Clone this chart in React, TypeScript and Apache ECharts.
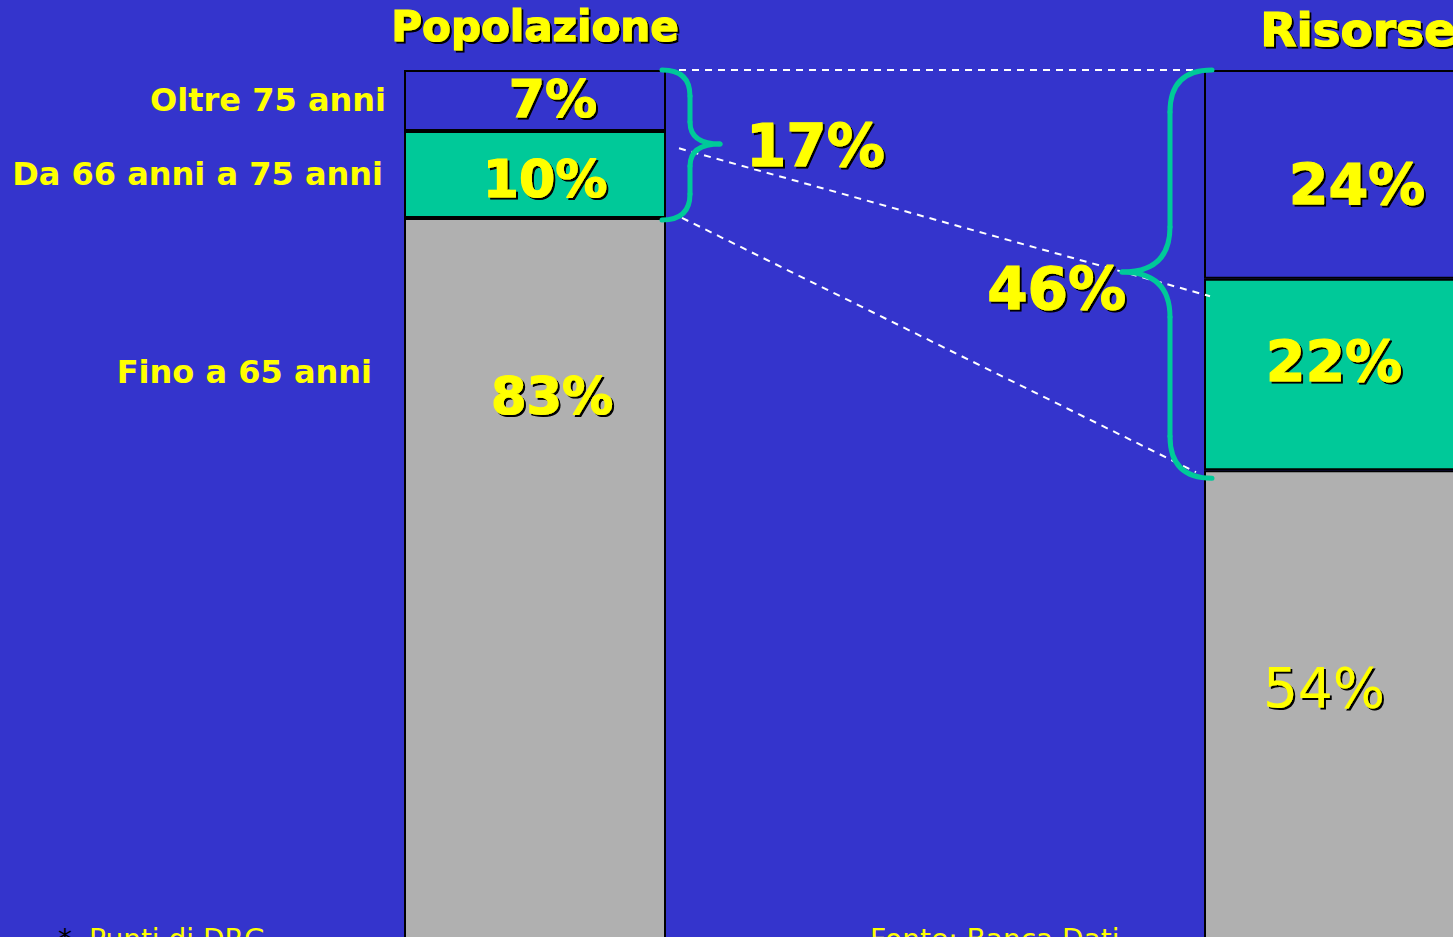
import React, { useEffect, useRef } from "react";
import * as echarts from "echarts";

// ---- data ----
const categories = ["Popolazione", "Risorse"];
const seriesNames = ["Fino a 65 anni", "Da 66 anni a 75 anni", "Oltre 75 anni"];
const fino65 = [83, 54];
const da66a75 = [10, 22];
const oltre75 = [7, 24];
const over65Totals = ["17%", "46%"];
const connectorPop = [100, 91, 83];
const connectorRis = [100, 74, 54];
const footnoteMark = "*";
const footnote = "Punti di DRG";
const sourceText = "Fonte: Banca Dati";

// ---- styles ----
const BG = "#3434cc";
const TEAL = "#00c999";
const GREY = "#b0b0b0";
const YELLOW = "#ffff00";
const FONT = "DejaVu Sans";
const shadow = { textShadowColor: "#000", textShadowOffsetX: 2, textShadowOffsetY: 2, textShadowBlur: 0.6 };
const heavy = { textBorderColor: YELLOW, textBorderWidth: 1.2 };

const labelOffsets = [
  [[17, -182], [-11, -17]],
  [[10, 5], [-1, -13]],
  [[18, -1], [22, 11]],
];
const labelSizes = [[51, 55], [52, 57], [52, 57]];
const labelWeights = [["bold", "normal"], ["bold", "bold"], ["bold", "bold"]];
const colors = [GREY, TEAL, BG];

export default function App() {
  const ref = useRef<HTMLDivElement>(null);
  useEffect(() => {
    const chart = echarts.init(ref.current!, null, { renderer: "svg" });
    const values = [fino65, da66a75, oltre75];
    const series = values.map((vals, s) => ({
      type: "bar",
      name: seriesNames[s],
      stack: "tot",
      barWidth: 262,
      itemStyle: { color: colors[s], borderColor: "#000", borderWidth: 2 },
      data: vals.map((v, i) => ({
        value: v,
        label: {
          show: true,
          position: "inside",
          formatter: "{c}%",
          color: YELLOW,
          fontFamily: FONT,
          fontSize: labelSizes[s][i],
          fontWeight: labelWeights[s][i],
          offset: labelOffsets[s][i],
          ...shadow,
          ...(labelWeights[s][i] === "bold" ? heavy : {}),
        },
      })),
    }));
    chart.setOption({
      animation: false,
      backgroundColor: BG,
      grid: { left: 135, width: 1600, top: 70, height: 870 },
      xAxis: {
        type: "category",
        data: categories,
        position: "top",
        axisLine: { show: false },
        axisTick: { show: false },
        axisLabel: {
          margin: 23,
          formatter: (v: string, i: number) => (i === 0 ? `{a|${v}}` : `{b|${v}}`),
          rich: {
            a: { color: YELLOW, fontFamily: FONT, fontWeight: "bold", fontSize: 42, ...shadow, ...heavy },
            b: { color: YELLOW, fontFamily: FONT, fontWeight: "bold", fontSize: 47, padding: [0, 0, -6, 46], ...shadow, ...heavy },
          },
        },
      },
      yAxis: { type: "value", min: 0, max: 100, show: false },
      series,
    });

    const px = (cat: number, v: number) => chart.convertToPixel({ gridIndex: 0 }, [cat, v]) as number[];
    const half = 131;
    const popRight = px(0, 0)[0] + half;
    const popLeft = px(0, 0)[0] - half;
    const risLeft = px(1, 0)[0] - half;

    const braceStyle = { stroke: TEAL, lineWidth: 5, fill: "none", lineCap: "round" };
    const brace = (edgeX: number, spineX: number, tipX: number, yTop: number, yBot: number, yMid: number, r1: number, r2: number) => {
      const q = (x1: number, y1: number, x2: number, y2: number, cx: number, cy: number) => ({
        type: "bezierCurve",
        shape: { x1, y1, x2, y2, cpx1: cx, cpy1: cy },
        style: braceStyle,
        silent: true,
      });
      const l = (x1: number, y1: number, x2: number, y2: number) => ({
        type: "line",
        shape: { x1, y1, x2, y2 },
        style: braceStyle,
        silent: true,
      });
      return [
        q(edgeX, yTop, spineX, yTop + r1, spineX, yTop),
        l(spineX, yTop + r1, spineX, yMid - r2),
        q(spineX, yMid - r2, tipX, yMid, spineX, yMid),
        q(tipX, yMid, spineX, yMid + r2, spineX, yMid),
        l(spineX, yMid + r2, spineX, yBot - r1),
        q(spineX, yBot - r1, edgeX, yBot, spineX, yBot),
      ];
    };

    const dashStyle = { stroke: "#ffffff", lineWidth: 2, lineDash: [7, 6] };
    const connectors = connectorPop.map((pv, k) => {
      const y1 = px(0, pv)[1];
      const y2 = px(1, connectorRis[k])[1];
      const x1 = popRight + (k === 0 ? 0 : 10 + k * 3);
      const x2 = risLeft + (k === 0 ? -4 : 6 - (k - 1) * 14);
      return { type: "line", shape: { x1, y1, x2, y2: k === 2 ? y2 + 2 : y2 }, style: dashStyle, silent: true, z: 5 };
    });

    const yTop = px(0, 100)[1];
    const popCut = px(0, fino65[0])[1];
    const risCut = px(1, fino65[1])[1];
    const b1 = brace(popRight - 4, popRight + 24, popRight + 54, yTop, popCut + 2, (yTop + popCut) / 2, 26, 22);
    const b2 = brace(risLeft + 8, risLeft - 34, risLeft - 82, yTop, risCut + 8, (yTop + risCut) / 2 + 2, 42, 45);

    const leftLabel = (text: string, right: number, y: number) => ({
      type: "text",
      x: right,
      y,
      silent: true,
      style: { text, fill: YELLOW, fontFamily: FONT, fontWeight: "bold", fontSize: 32, align: "right", verticalAlign: "middle" },
    });
    const seg = (lo: number, hi: number) => (px(0, lo)[1] + px(0, hi)[1]) / 2;
    const bigText = (text: string, x: number, y: number, align: string) => ({
      type: "text",
      x,
      y,
      silent: true,
      z: 10,
      style: {
        text, fill: YELLOW, stroke: YELLOW, lineWidth: 1.2, fontFamily: FONT, fontWeight: "bold", fontSize: 58,
        align, verticalAlign: "middle", ...shadow,
      },
    });
    const midB1 = (yTop + popCut) / 2;
    const midB2 = (yTop + risCut) / 2 + 2;

    chart.setOption({
      graphic: [
        ...connectors,
        ...b1.map((e) => ({ ...e, z: 6 })),
        ...b2.map((e) => ({ ...e, z: 6 })),
        leftLabel(seriesNames[2], popLeft - 18, seg(fino65[0] + da66a75[0], 100)),
        leftLabel(seriesNames[1], popLeft - 21, seg(fino65[0], fino65[0] + da66a75[0])),
        leftLabel(seriesNames[0], popLeft - 32, px(0, 65)[1] - 3),
        bigText(over65Totals[0], popRight + 80, midB1 + 2, "left"),
        bigText(over65Totals[1], risLeft - 78, midB2 + 17, "right"),
        {
          type: "text", x: 58, y: 925, silent: true,
          style: { text: footnoteMark, fill: "#000", fontFamily: FONT, fontSize: 28, verticalAlign: "top" },
        },
        {
          type: "text", x: 89, y: 925, silent: true,
          style: { text: footnote, fill: YELLOW, fontFamily: FONT, fontSize: 28, verticalAlign: "top" },
        },
        {
          type: "text", x: 870, y: 925, silent: true,
          style: { text: sourceText, fill: YELLOW, fontFamily: FONT, fontSize: 28, verticalAlign: "top" },
        },
      ],
    });
    return () => chart.dispose();
  }, []);

  return (
    <div style={{ position: "fixed", left: 0, top: 0, width: 1453, height: 937, overflow: "hidden", background: BG }}>
      <div ref={ref} style={{ width: 1800, height: 980 }} />
    </div>
  );
}
